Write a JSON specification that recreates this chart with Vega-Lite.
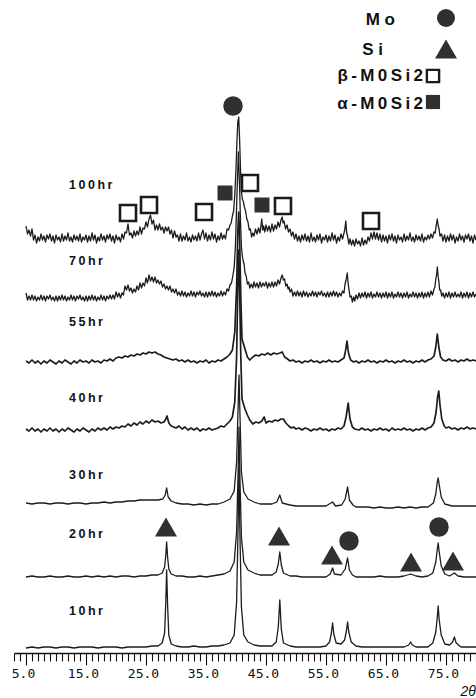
{
  "$schema": "https://vega.github.io/schema/vega-lite/v6.json",
  "width": 462,
  "height": 657,
  "autosize": "none",
  "padding": {"left": 14, "top": 0, "right": 0, "bottom": 41},
  "background": "white",
  "config": {"view": {"stroke": null}},
  "datasets": {
    "scans": [
      {"s":"10hr","x":5,"y":9},{"s":"10hr","x":6,"y":10},{"s":"10hr","x":7,"y":9},{"s":"10hr","x":8,"y":10},{"s":"10hr","x":9,"y":10},{"s":"10hr","x":10,"y":9},{"s":"10hr","x":11,"y":10},{"s":"10hr","x":12,"y":10},{"s":"10hr","x":13,"y":9},{"s":"10hr","x":14,"y":10},{"s":"10hr","x":15,"y":10},{"s":"10hr","x":16,"y":10},{"s":"10hr","x":17,"y":9},{"s":"10hr","x":18,"y":10},{"s":"10hr","x":19,"y":10},{"s":"10hr","x":20,"y":10},{"s":"10hr","x":21,"y":9},{"s":"10hr","x":22,"y":10},{"s":"10hr","x":23,"y":10},{"s":"10hr","x":24,"y":10},{"s":"10hr","x":25,"y":10},{"s":"10hr","x":26,"y":11},{"s":"10hr","x":27,"y":11},{"s":"10hr","x":27.7,"y":14},{"s":"10hr","x":28.1,"y":24},{"s":"10hr","x":28.3,"y":55},{"s":"10hr","x":28.44,"y":87},{"s":"10hr","x":28.6,"y":52},{"s":"10hr","x":28.8,"y":22},{"s":"10hr","x":29.2,"y":13},{"s":"10hr","x":30,"y":11},{"s":"10hr","x":31,"y":10},{"s":"10hr","x":32,"y":10},{"s":"10hr","x":33,"y":11},{"s":"10hr","x":34,"y":10},{"s":"10hr","x":35,"y":10},{"s":"10hr","x":36,"y":11},{"s":"10hr","x":37,"y":11},{"s":"10hr","x":38,"y":12},{"s":"10hr","x":39,"y":14},{"s":"10hr","x":39.7,"y":22},{"s":"10hr","x":40.1,"y":55},{"s":"10hr","x":40.35,"y":130},{"s":"10hr","x":40.5,"y":190},{"s":"10hr","x":40.65,"y":125},{"s":"10hr","x":40.9,"y":50},{"s":"10hr","x":41.3,"y":22},{"s":"10hr","x":42,"y":15},{"s":"10hr","x":43,"y":12},{"s":"10hr","x":44,"y":11},{"s":"10hr","x":45,"y":11},{"s":"10hr","x":46,"y":11},{"s":"10hr","x":46.7,"y":15},{"s":"10hr","x":47.05,"y":30},{"s":"10hr","x":47.3,"y":57},{"s":"10hr","x":47.55,"y":28},{"s":"10hr","x":47.9,"y":14},{"s":"10hr","x":49,"y":11},{"s":"10hr","x":50,"y":10},{"s":"10hr","x":51,"y":10},{"s":"10hr","x":52,"y":10},{"s":"10hr","x":53,"y":10},{"s":"10hr","x":54,"y":10},{"s":"10hr","x":55,"y":11},{"s":"10hr","x":55.6,"y":15},{"s":"10hr","x":55.9,"y":24},{"s":"10hr","x":56.1,"y":34},{"s":"10hr","x":56.3,"y":23},{"s":"10hr","x":56.7,"y":14},{"s":"10hr","x":57.5,"y":13},{"s":"10hr","x":58.1,"y":17},{"s":"10hr","x":58.4,"y":26},{"s":"10hr","x":58.6,"y":35},{"s":"10hr","x":58.8,"y":25},{"s":"10hr","x":59.2,"y":15},{"s":"10hr","x":60,"y":11},{"s":"10hr","x":61,"y":10},{"s":"10hr","x":62,"y":10},{"s":"10hr","x":63,"y":10},{"s":"10hr","x":64,"y":10},{"s":"10hr","x":65,"y":10},{"s":"10hr","x":66,"y":10},{"s":"10hr","x":67,"y":10},{"s":"10hr","x":68,"y":10},{"s":"10hr","x":68.8,"y":12},{"s":"10hr","x":69.1,"y":15},{"s":"10hr","x":69.4,"y":12},{"s":"10hr","x":70,"y":10},{"s":"10hr","x":71,"y":10},{"s":"10hr","x":72,"y":10},{"s":"10hr","x":72.8,"y":14},{"s":"10hr","x":73.3,"y":25},{"s":"10hr","x":73.55,"y":40},{"s":"10hr","x":73.7,"y":51},{"s":"10hr","x":73.85,"y":38},{"s":"10hr","x":74.2,"y":22},{"s":"10hr","x":74.8,"y":13},{"s":"10hr","x":75.6,"y":12},{"s":"10hr","x":76.1,"y":15},{"s":"10hr","x":76.4,"y":20},{"s":"10hr","x":76.7,"y":14},{"s":"10hr","x":77.5,"y":10},{"s":"10hr","x":78,"y":10},{"s":"10hr","x":79,"y":10},{"s":"10hr","x":80,"y":10},

      {"s":"20hr","x":5,"y":80},{"s":"20hr","x":6,"y":81},{"s":"20hr","x":7,"y":80},{"s":"20hr","x":8,"y":80},{"s":"20hr","x":9,"y":81},{"s":"20hr","x":10,"y":80},{"s":"20hr","x":11,"y":80},{"s":"20hr","x":12,"y":81},{"s":"20hr","x":13,"y":80},{"s":"20hr","x":14,"y":80},{"s":"20hr","x":15,"y":81},{"s":"20hr","x":16,"y":80},{"s":"20hr","x":17,"y":81},{"s":"20hr","x":18,"y":80},{"s":"20hr","x":19,"y":81},{"s":"20hr","x":20,"y":80},{"s":"20hr","x":21,"y":81},{"s":"20hr","x":22,"y":81},{"s":"20hr","x":23,"y":80},{"s":"20hr","x":24,"y":81},{"s":"20hr","x":25,"y":81},{"s":"20hr","x":26,"y":82},{"s":"20hr","x":27,"y":82},{"s":"20hr","x":27.7,"y":84},{"s":"20hr","x":28.1,"y":90},{"s":"20hr","x":28.3,"y":102},{"s":"20hr","x":28.44,"y":115},{"s":"20hr","x":28.6,"y":100},{"s":"20hr","x":28.8,"y":88},{"s":"20hr","x":29.2,"y":83},{"s":"20hr","x":30,"y":81},{"s":"20hr","x":31,"y":81},{"s":"20hr","x":32,"y":80},{"s":"20hr","x":33,"y":80},{"s":"20hr","x":34,"y":81},{"s":"20hr","x":35,"y":80},{"s":"20hr","x":36,"y":81},{"s":"20hr","x":37,"y":82},{"s":"20hr","x":38,"y":83},{"s":"20hr","x":39,"y":86},{"s":"20hr","x":39.7,"y":95},{"s":"20hr","x":40.1,"y":125},{"s":"20hr","x":40.35,"y":185},{"s":"20hr","x":40.5,"y":230},{"s":"20hr","x":40.65,"y":180},{"s":"20hr","x":40.9,"y":120},{"s":"20hr","x":41.3,"y":95},{"s":"20hr","x":42,"y":87},{"s":"20hr","x":43,"y":84},{"s":"20hr","x":44,"y":82},{"s":"20hr","x":45,"y":82},{"s":"20hr","x":46,"y":82},{"s":"20hr","x":46.7,"y":85},{"s":"20hr","x":47.05,"y":93},{"s":"20hr","x":47.3,"y":105},{"s":"20hr","x":47.55,"y":92},{"s":"20hr","x":47.9,"y":84},{"s":"20hr","x":49,"y":81},{"s":"20hr","x":50,"y":81},{"s":"20hr","x":51,"y":80},{"s":"20hr","x":52,"y":80},{"s":"20hr","x":53,"y":80},{"s":"20hr","x":54,"y":80},{"s":"20hr","x":55,"y":80},{"s":"20hr","x":55.7,"y":83},{"s":"20hr","x":56.1,"y":89},{"s":"20hr","x":56.4,"y":83},{"s":"20hr","x":57.5,"y":82},{"s":"20hr","x":58.2,"y":88},{"s":"20hr","x":58.6,"y":99},{"s":"20hr","x":58.9,"y":87},{"s":"20hr","x":59.4,"y":82},{"s":"20hr","x":60,"y":80},{"s":"20hr","x":61,"y":80},{"s":"20hr","x":62,"y":80},{"s":"20hr","x":63,"y":80},{"s":"20hr","x":64,"y":81},{"s":"20hr","x":65,"y":80},{"s":"20hr","x":66,"y":80},{"s":"20hr","x":67,"y":80},{"s":"20hr","x":68,"y":81},{"s":"20hr","x":69.1,"y":83},{"s":"20hr","x":70,"y":81},{"s":"20hr","x":71,"y":80},{"s":"20hr","x":72,"y":81},{"s":"20hr","x":72.8,"y":84},{"s":"20hr","x":73.3,"y":95},{"s":"20hr","x":73.55,"y":108},{"s":"20hr","x":73.7,"y":114},{"s":"20hr","x":73.85,"y":106},{"s":"20hr","x":74.2,"y":91},{"s":"20hr","x":74.8,"y":83},{"s":"20hr","x":75.6,"y":81},{"s":"20hr","x":76.4,"y":84},{"s":"20hr","x":77,"y":81},{"s":"20hr","x":78,"y":80},{"s":"20hr","x":79,"y":80},{"s":"20hr","x":80,"y":80},

      {"s":"30hr","x":5,"y":154},{"s":"30hr","x":6,"y":153},{"s":"30hr","x":7,"y":154},{"s":"30hr","x":8,"y":154},{"s":"30hr","x":9,"y":153},{"s":"30hr","x":10,"y":154},{"s":"30hr","x":11,"y":154},{"s":"30hr","x":12,"y":153},{"s":"30hr","x":13,"y":154},{"s":"30hr","x":14,"y":154},{"s":"30hr","x":15,"y":153},{"s":"30hr","x":16,"y":154},{"s":"30hr","x":17,"y":154},{"s":"30hr","x":18,"y":155},{"s":"30hr","x":19,"y":154},{"s":"30hr","x":20,"y":155},{"s":"30hr","x":21,"y":155},{"s":"30hr","x":22,"y":156},{"s":"30hr","x":23,"y":156},{"s":"30hr","x":24,"y":157},{"s":"30hr","x":25,"y":157},{"s":"30hr","x":26,"y":157},{"s":"30hr","x":27,"y":157},{"s":"30hr","x":27.8,"y":158},{"s":"30hr","x":28.2,"y":162},{"s":"30hr","x":28.44,"y":169},{"s":"30hr","x":28.7,"y":160},{"s":"30hr","x":29.2,"y":156},{"s":"30hr","x":30,"y":154},{"s":"30hr","x":31,"y":153},{"s":"30hr","x":32,"y":153},{"s":"30hr","x":33,"y":152},{"s":"30hr","x":34,"y":153},{"s":"30hr","x":35,"y":152},{"s":"30hr","x":36,"y":153},{"s":"30hr","x":37,"y":153},{"s":"30hr","x":38,"y":155},{"s":"30hr","x":39,"y":158},{"s":"30hr","x":39.7,"y":166},{"s":"30hr","x":40.1,"y":195},{"s":"30hr","x":40.35,"y":250},{"s":"30hr","x":40.5,"y":282},{"s":"30hr","x":40.65,"y":245},{"s":"30hr","x":40.9,"y":185},{"s":"30hr","x":41.3,"y":165},{"s":"30hr","x":42,"y":158},{"s":"30hr","x":43,"y":155},{"s":"30hr","x":44,"y":153},{"s":"30hr","x":45,"y":153},{"s":"30hr","x":46,"y":153},{"s":"30hr","x":46.8,"y":155},{"s":"30hr","x":47.3,"y":162},{"s":"30hr","x":47.7,"y":154},{"s":"30hr","x":49,"y":152},{"s":"30hr","x":50,"y":151},{"s":"30hr","x":51,"y":151},{"s":"30hr","x":52,"y":151},{"s":"30hr","x":53,"y":151},{"s":"30hr","x":54,"y":151},{"s":"30hr","x":55,"y":151},{"s":"30hr","x":56.1,"y":155},{"s":"30hr","x":56.6,"y":151},{"s":"30hr","x":57.6,"y":152},{"s":"30hr","x":58.2,"y":158},{"s":"30hr","x":58.6,"y":170},{"s":"30hr","x":58.9,"y":157},{"s":"30hr","x":59.5,"y":152},{"s":"30hr","x":60,"y":150},{"s":"30hr","x":61,"y":150},{"s":"30hr","x":62,"y":150},{"s":"30hr","x":63,"y":149},{"s":"30hr","x":64,"y":150},{"s":"30hr","x":65,"y":149},{"s":"30hr","x":66,"y":149},{"s":"30hr","x":67,"y":150},{"s":"30hr","x":68,"y":149},{"s":"30hr","x":69,"y":150},{"s":"30hr","x":70,"y":149},{"s":"30hr","x":71,"y":150},{"s":"30hr","x":72,"y":150},{"s":"30hr","x":72.9,"y":154},{"s":"30hr","x":73.3,"y":163},{"s":"30hr","x":73.55,"y":175},{"s":"30hr","x":73.7,"y":179},{"s":"30hr","x":73.85,"y":173},{"s":"30hr","x":74.2,"y":160},{"s":"30hr","x":74.8,"y":153},{"s":"30hr","x":76,"y":151},{"s":"30hr","x":77,"y":151},{"s":"30hr","x":78,"y":151},{"s":"30hr","x":79,"y":151},{"s":"30hr","x":80,"y":151},

      {"s":"40hr","x":5,"y":228},{"s":"40hr","x":5.5,"y":226},{"s":"40hr","x":6,"y":229},{"s":"40hr","x":6.5,"y":226},{"s":"40hr","x":7,"y":228},{"s":"40hr","x":7.5,"y":225},{"s":"40hr","x":8,"y":228},{"s":"40hr","x":8.5,"y":226},{"s":"40hr","x":9,"y":229},{"s":"40hr","x":9.5,"y":226},{"s":"40hr","x":10,"y":228},{"s":"40hr","x":10.5,"y":225},{"s":"40hr","x":11,"y":228},{"s":"40hr","x":11.5,"y":226},{"s":"40hr","x":12,"y":229},{"s":"40hr","x":12.5,"y":227},{"s":"40hr","x":13,"y":225},{"s":"40hr","x":13.5,"y":228},{"s":"40hr","x":14,"y":226},{"s":"40hr","x":14.5,"y":229},{"s":"40hr","x":15,"y":227},{"s":"40hr","x":15.5,"y":225},{"s":"40hr","x":16,"y":228},{"s":"40hr","x":16.5,"y":226},{"s":"40hr","x":17,"y":229},{"s":"40hr","x":17.5,"y":227},{"s":"40hr","x":18,"y":229},{"s":"40hr","x":18.5,"y":227},{"s":"40hr","x":19,"y":230},{"s":"40hr","x":19.5,"y":228},{"s":"40hr","x":20,"y":230},{"s":"40hr","x":20.5,"y":229},{"s":"40hr","x":21,"y":231},{"s":"40hr","x":21.5,"y":230},{"s":"40hr","x":22,"y":233},{"s":"40hr","x":22.5,"y":231},{"s":"40hr","x":23,"y":234},{"s":"40hr","x":23.5,"y":232},{"s":"40hr","x":24,"y":235},{"s":"40hr","x":24.5,"y":233},{"s":"40hr","x":25,"y":236},{"s":"40hr","x":25.5,"y":234},{"s":"40hr","x":26,"y":237},{"s":"40hr","x":26.5,"y":235},{"s":"40hr","x":27,"y":236},{"s":"40hr","x":27.5,"y":234},{"s":"40hr","x":28,"y":235},{"s":"40hr","x":28.3,"y":238},{"s":"40hr","x":28.5,"y":241},{"s":"40hr","x":28.8,"y":234},{"s":"40hr","x":29.2,"y":231},{"s":"40hr","x":29.6,"y":230},{"s":"40hr","x":30,"y":229},{"s":"40hr","x":30.5,"y":231},{"s":"40hr","x":31,"y":228},{"s":"40hr","x":31.5,"y":230},{"s":"40hr","x":32,"y":227},{"s":"40hr","x":32.5,"y":229},{"s":"40hr","x":33,"y":227},{"s":"40hr","x":33.5,"y":229},{"s":"40hr","x":34,"y":226},{"s":"40hr","x":34.5,"y":228},{"s":"40hr","x":35,"y":227},{"s":"40hr","x":35.5,"y":229},{"s":"40hr","x":36,"y":227},{"s":"40hr","x":36.5,"y":228},{"s":"40hr","x":37,"y":229},{"s":"40hr","x":37.5,"y":231},{"s":"40hr","x":38,"y":230},{"s":"40hr","x":38.5,"y":233},{"s":"40hr","x":39,"y":236},{"s":"40hr","x":39.4,"y":240},{"s":"40hr","x":39.8,"y":255},{"s":"40hr","x":40.1,"y":300},{"s":"40hr","x":40.3,"y":370},{"s":"40hr","x":40.45,"y":407},{"s":"40hr","x":40.6,"y":370},{"s":"40hr","x":40.8,"y":300},{"s":"40hr","x":41,"y":258},{"s":"40hr","x":41.2,"y":254},{"s":"40hr","x":41.5,"y":248},{"s":"40hr","x":41.9,"y":242},{"s":"40hr","x":42.3,"y":237},{"s":"40hr","x":42.8,"y":233},{"s":"40hr","x":43.3,"y":235},{"s":"40hr","x":43.8,"y":234},{"s":"40hr","x":44.3,"y":236},{"s":"40hr","x":44.7,"y":240},{"s":"40hr","x":45,"y":234},{"s":"40hr","x":45.5,"y":236},{"s":"40hr","x":46,"y":235},{"s":"40hr","x":46.5,"y":237},{"s":"40hr","x":47,"y":236},{"s":"40hr","x":47.5,"y":238},{"s":"40hr","x":47.9,"y":238},{"s":"40hr","x":48.3,"y":234},{"s":"40hr","x":48.8,"y":231},{"s":"40hr","x":49.2,"y":229},{"s":"40hr","x":49.6,"y":230},{"s":"40hr","x":50,"y":228},{"s":"40hr","x":50.5,"y":229},{"s":"40hr","x":51,"y":227},{"s":"40hr","x":51.5,"y":229},{"s":"40hr","x":52,"y":228},{"s":"40hr","x":52.5,"y":226},{"s":"40hr","x":53,"y":228},{"s":"40hr","x":53.5,"y":227},{"s":"40hr","x":54,"y":229},{"s":"40hr","x":54.5,"y":227},{"s":"40hr","x":55,"y":228},{"s":"40hr","x":55.5,"y":226},{"s":"40hr","x":56,"y":228},{"s":"40hr","x":56.5,"y":227},{"s":"40hr","x":57,"y":229},{"s":"40hr","x":57.5,"y":228},{"s":"40hr","x":58,"y":231},{"s":"40hr","x":58.35,"y":240},{"s":"40hr","x":58.7,"y":254},{"s":"40hr","x":59,"y":238},{"s":"40hr","x":59.4,"y":230},{"s":"40hr","x":59.8,"y":228},{"s":"40hr","x":60.5,"y":227},{"s":"40hr","x":61,"y":229},{"s":"40hr","x":61.5,"y":227},{"s":"40hr","x":62,"y":228},{"s":"40hr","x":62.5,"y":226},{"s":"40hr","x":63,"y":228},{"s":"40hr","x":63.5,"y":227},{"s":"40hr","x":64,"y":229},{"s":"40hr","x":64.5,"y":227},{"s":"40hr","x":65,"y":228},{"s":"40hr","x":65.5,"y":226},{"s":"40hr","x":66,"y":229},{"s":"40hr","x":66.5,"y":227},{"s":"40hr","x":67,"y":228},{"s":"40hr","x":67.5,"y":227},{"s":"40hr","x":68,"y":229},{"s":"40hr","x":68.5,"y":227},{"s":"40hr","x":69,"y":228},{"s":"40hr","x":69.5,"y":226},{"s":"40hr","x":70,"y":228},{"s":"40hr","x":70.5,"y":227},{"s":"40hr","x":71,"y":229},{"s":"40hr","x":71.5,"y":227},{"s":"40hr","x":72,"y":229},{"s":"40hr","x":72.5,"y":230},{"s":"40hr","x":73,"y":234},{"s":"40hr","x":73.35,"y":245},{"s":"40hr","x":73.6,"y":260},{"s":"40hr","x":73.8,"y":266},{"s":"40hr","x":74,"y":252},{"s":"40hr","x":74.3,"y":238},{"s":"40hr","x":74.7,"y":231},{"s":"40hr","x":75,"y":229},{"s":"40hr","x":75.5,"y":230},{"s":"40hr","x":76,"y":228},{"s":"40hr","x":76.5,"y":229},{"s":"40hr","x":77,"y":227},{"s":"40hr","x":77.5,"y":229},{"s":"40hr","x":78,"y":228},{"s":"40hr","x":78.5,"y":230},{"s":"40hr","x":79,"y":228},{"s":"40hr","x":79.5,"y":229},{"s":"40hr","x":80,"y":228},

      {"s":"55hr","x":5,"y":296},{"s":"55hr","x":5.5,"y":294},{"s":"55hr","x":6,"y":297},{"s":"55hr","x":6.5,"y":294},{"s":"55hr","x":7,"y":296},{"s":"55hr","x":7.5,"y":293},{"s":"55hr","x":8,"y":296},{"s":"55hr","x":8.5,"y":294},{"s":"55hr","x":9,"y":297},{"s":"55hr","x":9.5,"y":295},{"s":"55hr","x":10,"y":293},{"s":"55hr","x":10.5,"y":296},{"s":"55hr","x":11,"y":294},{"s":"55hr","x":11.5,"y":297},{"s":"55hr","x":12,"y":295},{"s":"55hr","x":12.5,"y":293},{"s":"55hr","x":13,"y":296},{"s":"55hr","x":13.5,"y":294},{"s":"55hr","x":14,"y":297},{"s":"55hr","x":14.5,"y":295},{"s":"55hr","x":15,"y":296},{"s":"55hr","x":15.5,"y":294},{"s":"55hr","x":16,"y":297},{"s":"55hr","x":16.5,"y":295},{"s":"55hr","x":17,"y":296},{"s":"55hr","x":17.5,"y":294},{"s":"55hr","x":18,"y":297},{"s":"55hr","x":18.5,"y":296},{"s":"55hr","x":19,"y":298},{"s":"55hr","x":19.5,"y":296},{"s":"55hr","x":20,"y":299},{"s":"55hr","x":20.5,"y":300},{"s":"55hr","x":21,"y":299},{"s":"55hr","x":21.5,"y":301},{"s":"55hr","x":22,"y":300},{"s":"55hr","x":22.5,"y":302},{"s":"55hr","x":23,"y":301},{"s":"55hr","x":23.5,"y":303},{"s":"55hr","x":24,"y":302},{"s":"55hr","x":24.5,"y":304},{"s":"55hr","x":25,"y":303},{"s":"55hr","x":25.5,"y":305},{"s":"55hr","x":26,"y":304},{"s":"55hr","x":26.5,"y":305},{"s":"55hr","x":27,"y":303},{"s":"55hr","x":27.5,"y":302},{"s":"55hr","x":28,"y":300},{"s":"55hr","x":28.5,"y":299},{"s":"55hr","x":29,"y":298},{"s":"55hr","x":29.5,"y":297},{"s":"55hr","x":30,"y":298},{"s":"55hr","x":30.5,"y":296},{"s":"55hr","x":31,"y":297},{"s":"55hr","x":31.5,"y":295},{"s":"55hr","x":32,"y":297},{"s":"55hr","x":32.5,"y":295},{"s":"55hr","x":33,"y":296},{"s":"55hr","x":33.5,"y":294},{"s":"55hr","x":34,"y":296},{"s":"55hr","x":34.5,"y":295},{"s":"55hr","x":35,"y":297},{"s":"55hr","x":35.5,"y":294},{"s":"55hr","x":36,"y":296},{"s":"55hr","x":36.5,"y":295},{"s":"55hr","x":37,"y":297},{"s":"55hr","x":37.5,"y":296},{"s":"55hr","x":38,"y":298},{"s":"55hr","x":38.5,"y":300},{"s":"55hr","x":39,"y":303},{"s":"55hr","x":39.4,"y":307},{"s":"55hr","x":39.8,"y":325},{"s":"55hr","x":40.1,"y":370},{"s":"55hr","x":40.3,"y":425},{"s":"55hr","x":40.45,"y":445},{"s":"55hr","x":40.6,"y":420},{"s":"55hr","x":40.8,"y":360},{"s":"55hr","x":41,"y":318},{"s":"55hr","x":41.2,"y":314},{"s":"55hr","x":41.5,"y":308},{"s":"55hr","x":41.9,"y":300},{"s":"55hr","x":42.3,"y":297},{"s":"55hr","x":42.8,"y":300},{"s":"55hr","x":43.3,"y":302},{"s":"55hr","x":43.8,"y":301},{"s":"55hr","x":44.3,"y":303},{"s":"55hr","x":44.8,"y":302},{"s":"55hr","x":45.3,"y":304},{"s":"55hr","x":45.8,"y":302},{"s":"55hr","x":46.3,"y":304},{"s":"55hr","x":46.8,"y":303},{"s":"55hr","x":47.3,"y":304},{"s":"55hr","x":47.7,"y":305},{"s":"55hr","x":48.1,"y":300},{"s":"55hr","x":48.6,"y":298},{"s":"55hr","x":49,"y":296},{"s":"55hr","x":49.5,"y":297},{"s":"55hr","x":50,"y":295},{"s":"55hr","x":50.5,"y":296},{"s":"55hr","x":51,"y":294},{"s":"55hr","x":51.5,"y":296},{"s":"55hr","x":52,"y":295},{"s":"55hr","x":52.5,"y":297},{"s":"55hr","x":53,"y":295},{"s":"55hr","x":53.5,"y":296},{"s":"55hr","x":54,"y":294},{"s":"55hr","x":54.5,"y":296},{"s":"55hr","x":55,"y":295},{"s":"55hr","x":55.5,"y":297},{"s":"55hr","x":56,"y":295},{"s":"55hr","x":56.5,"y":296},{"s":"55hr","x":57,"y":295},{"s":"55hr","x":57.5,"y":297},{"s":"55hr","x":58,"y":299},{"s":"55hr","x":58.25,"y":306},{"s":"55hr","x":58.5,"y":316},{"s":"55hr","x":58.75,"y":304},{"s":"55hr","x":59.1,"y":297},{"s":"55hr","x":59.6,"y":295},{"s":"55hr","x":60,"y":296},{"s":"55hr","x":60.5,"y":294},{"s":"55hr","x":61,"y":296},{"s":"55hr","x":61.5,"y":295},{"s":"55hr","x":62,"y":297},{"s":"55hr","x":62.5,"y":295},{"s":"55hr","x":63,"y":296},{"s":"55hr","x":63.5,"y":294},{"s":"55hr","x":64,"y":296},{"s":"55hr","x":64.5,"y":295},{"s":"55hr","x":65,"y":297},{"s":"55hr","x":65.5,"y":295},{"s":"55hr","x":66,"y":296},{"s":"55hr","x":66.5,"y":294},{"s":"55hr","x":67,"y":296},{"s":"55hr","x":67.5,"y":295},{"s":"55hr","x":68,"y":297},{"s":"55hr","x":68.5,"y":295},{"s":"55hr","x":69,"y":296},{"s":"55hr","x":69.5,"y":294},{"s":"55hr","x":70,"y":296},{"s":"55hr","x":70.5,"y":295},{"s":"55hr","x":71,"y":297},{"s":"55hr","x":71.5,"y":295},{"s":"55hr","x":72,"y":297},{"s":"55hr","x":72.5,"y":298},{"s":"55hr","x":73,"y":301},{"s":"55hr","x":73.3,"y":310},{"s":"55hr","x":73.55,"y":323},{"s":"55hr","x":73.8,"y":310},{"s":"55hr","x":74.1,"y":300},{"s":"55hr","x":74.5,"y":297},{"s":"55hr","x":75,"y":296},{"s":"55hr","x":75.5,"y":298},{"s":"55hr","x":76,"y":296},{"s":"55hr","x":76.5,"y":297},{"s":"55hr","x":77,"y":295},{"s":"55hr","x":77.5,"y":297},{"s":"55hr","x":78,"y":296},{"s":"55hr","x":78.5,"y":298},{"s":"55hr","x":79,"y":296},{"s":"55hr","x":79.5,"y":297},{"s":"55hr","x":80,"y":296},

      {"s":"70hr","x":5,"y":364},{"s":"70hr","x":5.25,"y":357},{"s":"70hr","x":5.5,"y":361},{"s":"70hr","x":5.75,"y":357},{"s":"70hr","x":6,"y":362},{"s":"70hr","x":6.25,"y":357},{"s":"70hr","x":6.5,"y":361},{"s":"70hr","x":6.75,"y":356},{"s":"70hr","x":7,"y":360},{"s":"70hr","x":7.25,"y":357},{"s":"70hr","x":7.5,"y":362},{"s":"70hr","x":7.75,"y":357},{"s":"70hr","x":8,"y":361},{"s":"70hr","x":8.25,"y":356},{"s":"70hr","x":8.5,"y":361},{"s":"70hr","x":8.75,"y":358},{"s":"70hr","x":9,"y":362},{"s":"70hr","x":9.25,"y":357},{"s":"70hr","x":9.5,"y":360},{"s":"70hr","x":9.75,"y":356},{"s":"70hr","x":10,"y":361},{"s":"70hr","x":10.25,"y":356},{"s":"70hr","x":10.5,"y":361},{"s":"70hr","x":10.75,"y":357},{"s":"70hr","x":11,"y":362},{"s":"70hr","x":11.25,"y":357},{"s":"70hr","x":11.5,"y":361},{"s":"70hr","x":11.75,"y":356},{"s":"70hr","x":12,"y":360},{"s":"70hr","x":12.25,"y":357},{"s":"70hr","x":12.5,"y":362},{"s":"70hr","x":12.75,"y":357},{"s":"70hr","x":13,"y":361},{"s":"70hr","x":13.25,"y":356},{"s":"70hr","x":13.5,"y":361},{"s":"70hr","x":13.75,"y":358},{"s":"70hr","x":14,"y":362},{"s":"70hr","x":14.25,"y":357},{"s":"70hr","x":14.5,"y":360},{"s":"70hr","x":14.75,"y":356},{"s":"70hr","x":15,"y":361},{"s":"70hr","x":15.25,"y":356},{"s":"70hr","x":15.5,"y":361},{"s":"70hr","x":15.75,"y":357},{"s":"70hr","x":16,"y":362},{"s":"70hr","x":16.25,"y":357},{"s":"70hr","x":16.5,"y":361},{"s":"70hr","x":16.75,"y":356},{"s":"70hr","x":17,"y":360},{"s":"70hr","x":17.25,"y":357},{"s":"70hr","x":17.5,"y":362},{"s":"70hr","x":17.75,"y":357},{"s":"70hr","x":18,"y":361},{"s":"70hr","x":18.25,"y":356},{"s":"70hr","x":18.5,"y":361},{"s":"70hr","x":18.75,"y":358},{"s":"70hr","x":19,"y":362},{"s":"70hr","x":19.25,"y":358},{"s":"70hr","x":19.5,"y":362},{"s":"70hr","x":19.75,"y":358},{"s":"70hr","x":20,"y":365},{"s":"70hr","x":20.25,"y":360},{"s":"70hr","x":20.5,"y":364},{"s":"70hr","x":20.75,"y":359},{"s":"70hr","x":21,"y":364},{"s":"70hr","x":21.25,"y":362},{"s":"70hr","x":21.5,"y":371},{"s":"70hr","x":21.75,"y":367},{"s":"70hr","x":22,"y":372},{"s":"70hr","x":22.25,"y":366},{"s":"70hr","x":22.5,"y":369},{"s":"70hr","x":22.75,"y":364},{"s":"70hr","x":23,"y":368},{"s":"70hr","x":23.25,"y":365},{"s":"70hr","x":23.5,"y":371},{"s":"70hr","x":23.75,"y":367},{"s":"70hr","x":24,"y":374},{"s":"70hr","x":24.25,"y":369},{"s":"70hr","x":24.5,"y":374},{"s":"70hr","x":24.75,"y":371},{"s":"70hr","x":25,"y":379},{"s":"70hr","x":25.25,"y":374},{"s":"70hr","x":25.5,"y":382},{"s":"70hr","x":25.75,"y":376},{"s":"70hr","x":26,"y":380},{"s":"70hr","x":26.25,"y":375},{"s":"70hr","x":26.5,"y":380},{"s":"70hr","x":26.75,"y":374},{"s":"70hr","x":27,"y":377},{"s":"70hr","x":27.25,"y":373},{"s":"70hr","x":27.5,"y":376},{"s":"70hr","x":27.75,"y":370},{"s":"70hr","x":28,"y":373},{"s":"70hr","x":28.25,"y":368},{"s":"70hr","x":28.5,"y":371},{"s":"70hr","x":28.75,"y":367},{"s":"70hr","x":29,"y":371},{"s":"70hr","x":29.25,"y":365},{"s":"70hr","x":29.5,"y":368},{"s":"70hr","x":29.75,"y":364},{"s":"70hr","x":30,"y":368},{"s":"70hr","x":30.25,"y":362},{"s":"70hr","x":30.5,"y":365},{"s":"70hr","x":30.75,"y":361},{"s":"70hr","x":31,"y":366},{"s":"70hr","x":31.25,"y":361},{"s":"70hr","x":31.5,"y":365},{"s":"70hr","x":31.75,"y":360},{"s":"70hr","x":32,"y":364},{"s":"70hr","x":32.25,"y":361},{"s":"70hr","x":32.5,"y":366},{"s":"70hr","x":32.75,"y":361},{"s":"70hr","x":33,"y":365},{"s":"70hr","x":33.25,"y":360},{"s":"70hr","x":33.5,"y":365},{"s":"70hr","x":33.75,"y":362},{"s":"70hr","x":34,"y":366},{"s":"70hr","x":34.25,"y":361},{"s":"70hr","x":34.5,"y":364},{"s":"70hr","x":34.75,"y":360},{"s":"70hr","x":35,"y":365},{"s":"70hr","x":35.25,"y":360},{"s":"70hr","x":35.5,"y":365},{"s":"70hr","x":35.75,"y":361},{"s":"70hr","x":36,"y":366},{"s":"70hr","x":36.25,"y":361},{"s":"70hr","x":36.5,"y":365},{"s":"70hr","x":36.75,"y":360},{"s":"70hr","x":37,"y":364},{"s":"70hr","x":37.25,"y":361},{"s":"70hr","x":37.5,"y":366},{"s":"70hr","x":37.75,"y":361},{"s":"70hr","x":38,"y":365},{"s":"70hr","x":38.25,"y":362},{"s":"70hr","x":38.5,"y":368},{"s":"70hr","x":38.75,"y":366},{"s":"70hr","x":39,"y":372},{"s":"70hr","x":39.25,"y":374},{"s":"70hr","x":39.5,"y":382},{"s":"70hr","x":39.7,"y":390},{"s":"70hr","x":39.9,"y":410},{"s":"70hr","x":40.05,"y":440},{"s":"70hr","x":40.2,"y":470},{"s":"70hr","x":40.4,"y":505},{"s":"70hr","x":40.6,"y":470},{"s":"70hr","x":40.75,"y":435},{"s":"70hr","x":40.9,"y":410},{"s":"70hr","x":41.05,"y":401},{"s":"70hr","x":41.2,"y":396},{"s":"70hr","x":41.35,"y":393},{"s":"70hr","x":41.5,"y":384},{"s":"70hr","x":41.7,"y":381},{"s":"70hr","x":41.9,"y":373},{"s":"70hr","x":42.1,"y":375},{"s":"70hr","x":42.3,"y":369},{"s":"70hr","x":42.55,"y":373},{"s":"70hr","x":42.8,"y":369},{"s":"70hr","x":43,"y":375},{"s":"70hr","x":43.25,"y":370},{"s":"70hr","x":43.5,"y":374},{"s":"70hr","x":43.75,"y":369},{"s":"70hr","x":44,"y":375},{"s":"70hr","x":44.25,"y":370},{"s":"70hr","x":44.5,"y":374},{"s":"70hr","x":44.75,"y":371},{"s":"70hr","x":45,"y":375},{"s":"70hr","x":45.25,"y":369},{"s":"70hr","x":45.5,"y":374},{"s":"70hr","x":45.75,"y":370},{"s":"70hr","x":46,"y":375},{"s":"70hr","x":46.25,"y":370},{"s":"70hr","x":46.5,"y":375},{"s":"70hr","x":46.75,"y":371},{"s":"70hr","x":47,"y":377},{"s":"70hr","x":47.25,"y":373},{"s":"70hr","x":47.5,"y":379},{"s":"70hr","x":47.7,"y":382},{"s":"70hr","x":47.9,"y":377},{"s":"70hr","x":48.1,"y":378},{"s":"70hr","x":48.3,"y":371},{"s":"70hr","x":48.5,"y":373},{"s":"70hr","x":48.7,"y":368},{"s":"70hr","x":48.85,"y":370},{"s":"70hr","x":49,"y":365},{"s":"70hr","x":49.25,"y":368},{"s":"70hr","x":49.5,"y":361},{"s":"70hr","x":49.75,"y":365},{"s":"70hr","x":50,"y":361},{"s":"70hr","x":50.25,"y":366},{"s":"70hr","x":50.5,"y":361},{"s":"70hr","x":50.75,"y":365},{"s":"70hr","x":51,"y":360},{"s":"70hr","x":51.25,"y":366},{"s":"70hr","x":51.5,"y":361},{"s":"70hr","x":51.75,"y":365},{"s":"70hr","x":52,"y":360},{"s":"70hr","x":52.25,"y":364},{"s":"70hr","x":52.5,"y":361},{"s":"70hr","x":52.75,"y":366},{"s":"70hr","x":53,"y":361},{"s":"70hr","x":53.25,"y":365},{"s":"70hr","x":53.5,"y":360},{"s":"70hr","x":53.75,"y":365},{"s":"70hr","x":54,"y":362},{"s":"70hr","x":54.25,"y":366},{"s":"70hr","x":54.5,"y":361},{"s":"70hr","x":54.75,"y":364},{"s":"70hr","x":55,"y":360},{"s":"70hr","x":55.25,"y":365},{"s":"70hr","x":55.5,"y":360},{"s":"70hr","x":55.75,"y":365},{"s":"70hr","x":56,"y":361},{"s":"70hr","x":56.25,"y":366},{"s":"70hr","x":56.5,"y":361},{"s":"70hr","x":56.75,"y":365},{"s":"70hr","x":57,"y":360},{"s":"70hr","x":57.25,"y":364},{"s":"70hr","x":57.5,"y":361},{"s":"70hr","x":57.75,"y":366},{"s":"70hr","x":58,"y":364},{"s":"70hr","x":58.15,"y":372},{"s":"70hr","x":58.3,"y":376},{"s":"70hr","x":58.55,"y":384},{"s":"70hr","x":58.7,"y":373},{"s":"70hr","x":58.8,"y":369},{"s":"70hr","x":59,"y":360},{"s":"70hr","x":59.2,"y":361},{"s":"70hr","x":59.4,"y":355},{"s":"70hr","x":59.6,"y":360},{"s":"70hr","x":59.8,"y":356},{"s":"70hr","x":60,"y":362},{"s":"70hr","x":60.25,"y":358},{"s":"70hr","x":60.5,"y":364},{"s":"70hr","x":60.75,"y":359},{"s":"70hr","x":61,"y":364},{"s":"70hr","x":61.25,"y":360},{"s":"70hr","x":61.5,"y":365},{"s":"70hr","x":61.75,"y":359},{"s":"70hr","x":62,"y":364},{"s":"70hr","x":62.25,"y":360},{"s":"70hr","x":62.5,"y":365},{"s":"70hr","x":62.75,"y":359},{"s":"70hr","x":63,"y":363},{"s":"70hr","x":63.25,"y":360},{"s":"70hr","x":63.5,"y":365},{"s":"70hr","x":63.75,"y":360},{"s":"70hr","x":64,"y":364},{"s":"70hr","x":64.25,"y":359},{"s":"70hr","x":64.5,"y":364},{"s":"70hr","x":64.75,"y":360},{"s":"70hr","x":65,"y":365},{"s":"70hr","x":65.25,"y":359},{"s":"70hr","x":65.5,"y":364},{"s":"70hr","x":65.75,"y":360},{"s":"70hr","x":66,"y":365},{"s":"70hr","x":66.25,"y":359},{"s":"70hr","x":66.5,"y":363},{"s":"70hr","x":66.75,"y":360},{"s":"70hr","x":67,"y":365},{"s":"70hr","x":67.25,"y":360},{"s":"70hr","x":67.5,"y":364},{"s":"70hr","x":67.75,"y":359},{"s":"70hr","x":68,"y":364},{"s":"70hr","x":68.25,"y":360},{"s":"70hr","x":68.5,"y":365},{"s":"70hr","x":68.75,"y":359},{"s":"70hr","x":69,"y":363},{"s":"70hr","x":69.25,"y":360},{"s":"70hr","x":69.5,"y":365},{"s":"70hr","x":69.75,"y":360},{"s":"70hr","x":70,"y":364},{"s":"70hr","x":70.25,"y":359},{"s":"70hr","x":70.5,"y":364},{"s":"70hr","x":70.75,"y":360},{"s":"70hr","x":71,"y":365},{"s":"70hr","x":71.25,"y":359},{"s":"70hr","x":71.5,"y":364},{"s":"70hr","x":71.75,"y":360},{"s":"70hr","x":72,"y":365},{"s":"70hr","x":72.25,"y":360},{"s":"70hr","x":72.5,"y":366},{"s":"70hr","x":72.75,"y":362},{"s":"70hr","x":73,"y":368},{"s":"70hr","x":73.15,"y":370},{"s":"70hr","x":73.3,"y":378},{"s":"70hr","x":73.45,"y":383},{"s":"70hr","x":73.55,"y":390},{"s":"70hr","x":73.7,"y":380},{"s":"70hr","x":73.8,"y":376},{"s":"70hr","x":73.95,"y":367},{"s":"70hr","x":74.1,"y":367},{"s":"70hr","x":74.3,"y":361},{"s":"70hr","x":74.5,"y":364},{"s":"70hr","x":74.75,"y":359},{"s":"70hr","x":75,"y":364},{"s":"70hr","x":75.25,"y":360},{"s":"70hr","x":75.5,"y":365},{"s":"70hr","x":75.75,"y":359},{"s":"70hr","x":76,"y":364},{"s":"70hr","x":76.25,"y":360},{"s":"70hr","x":76.5,"y":365},{"s":"70hr","x":76.75,"y":360},{"s":"70hr","x":77,"y":363},{"s":"70hr","x":77.25,"y":360},{"s":"70hr","x":77.5,"y":365},{"s":"70hr","x":77.75,"y":359},{"s":"70hr","x":78,"y":364},{"s":"70hr","x":78.25,"y":360},{"s":"70hr","x":78.5,"y":365},{"s":"70hr","x":78.75,"y":359},{"s":"70hr","x":79,"y":364},{"s":"70hr","x":79.25,"y":360},{"s":"70hr","x":79.5,"y":365},{"s":"70hr","x":79.75,"y":360},{"s":"70hr","x":80,"y":363},

      {"s":"100hr","x":5,"y":431},{"s":"100hr","x":5.25,"y":423},{"s":"100hr","x":5.5,"y":427},{"s":"100hr","x":5.75,"y":421},{"s":"100hr","x":6,"y":428},{"s":"100hr","x":6.25,"y":417},{"s":"100hr","x":6.5,"y":422},{"s":"100hr","x":6.75,"y":414},{"s":"100hr","x":7,"y":420},{"s":"100hr","x":7.25,"y":416},{"s":"100hr","x":7.5,"y":423},{"s":"100hr","x":7.75,"y":417},{"s":"100hr","x":8,"y":421},{"s":"100hr","x":8.25,"y":415},{"s":"100hr","x":8.5,"y":422},{"s":"100hr","x":8.75,"y":418},{"s":"100hr","x":9,"y":423},{"s":"100hr","x":9.25,"y":416},{"s":"100hr","x":9.5,"y":421},{"s":"100hr","x":9.75,"y":414},{"s":"100hr","x":10,"y":422},{"s":"100hr","x":10.25,"y":417},{"s":"100hr","x":10.5,"y":420},{"s":"100hr","x":10.75,"y":415},{"s":"100hr","x":11,"y":423},{"s":"100hr","x":11.25,"y":416},{"s":"100hr","x":11.5,"y":421},{"s":"100hr","x":11.75,"y":417},{"s":"100hr","x":12,"y":424},{"s":"100hr","x":12.25,"y":416},{"s":"100hr","x":12.5,"y":420},{"s":"100hr","x":12.75,"y":415},{"s":"100hr","x":13,"y":422},{"s":"100hr","x":13.25,"y":417},{"s":"100hr","x":13.5,"y":421},{"s":"100hr","x":13.75,"y":416},{"s":"100hr","x":14,"y":423},{"s":"100hr","x":14.25,"y":415},{"s":"100hr","x":14.5,"y":420},{"s":"100hr","x":14.75,"y":417},{"s":"100hr","x":15,"y":422},{"s":"100hr","x":15.25,"y":415},{"s":"100hr","x":15.5,"y":421},{"s":"100hr","x":15.75,"y":416},{"s":"100hr","x":16,"y":424},{"s":"100hr","x":16.25,"y":417},{"s":"100hr","x":16.5,"y":422},{"s":"100hr","x":16.75,"y":414},{"s":"100hr","x":17,"y":420},{"s":"100hr","x":17.25,"y":416},{"s":"100hr","x":17.5,"y":423},{"s":"100hr","x":17.75,"y":417},{"s":"100hr","x":18,"y":421},{"s":"100hr","x":18.25,"y":415},{"s":"100hr","x":18.5,"y":422},{"s":"100hr","x":18.75,"y":418},{"s":"100hr","x":19,"y":423},{"s":"100hr","x":19.25,"y":416},{"s":"100hr","x":19.5,"y":421},{"s":"100hr","x":19.75,"y":414},{"s":"100hr","x":20,"y":422},{"s":"100hr","x":20.25,"y":417},{"s":"100hr","x":20.5,"y":420},{"s":"100hr","x":20.75,"y":415},{"s":"100hr","x":21,"y":423},{"s":"100hr","x":21.25,"y":418},{"s":"100hr","x":21.5,"y":425},{"s":"100hr","x":21.75,"y":424},{"s":"100hr","x":22,"y":433},{"s":"100hr","x":22.25,"y":422},{"s":"100hr","x":22.5,"y":424},{"s":"100hr","x":22.75,"y":419},{"s":"100hr","x":23,"y":426},{"s":"100hr","x":23.25,"y":421},{"s":"100hr","x":23.5,"y":426},{"s":"100hr","x":23.75,"y":422},{"s":"100hr","x":24,"y":430},{"s":"100hr","x":24.25,"y":423},{"s":"100hr","x":24.5,"y":429},{"s":"100hr","x":24.75,"y":428},{"s":"100hr","x":25,"y":435},{"s":"100hr","x":25.25,"y":430},{"s":"100hr","x":25.5,"y":438},{"s":"100hr","x":25.75,"y":442},{"s":"100hr","x":26,"y":433},{"s":"100hr","x":26.25,"y":437},{"s":"100hr","x":26.5,"y":427},{"s":"100hr","x":26.75,"y":432},{"s":"100hr","x":27,"y":427},{"s":"100hr","x":27.25,"y":433},{"s":"100hr","x":27.5,"y":427},{"s":"100hr","x":27.75,"y":430},{"s":"100hr","x":28,"y":424},{"s":"100hr","x":28.25,"y":430},{"s":"100hr","x":28.5,"y":426},{"s":"100hr","x":28.75,"y":430},{"s":"100hr","x":29,"y":423},{"s":"100hr","x":29.25,"y":427},{"s":"100hr","x":29.5,"y":419},{"s":"100hr","x":29.75,"y":426},{"s":"100hr","x":30,"y":420},{"s":"100hr","x":30.25,"y":422},{"s":"100hr","x":30.5,"y":416},{"s":"100hr","x":30.75,"y":423},{"s":"100hr","x":31,"y":416},{"s":"100hr","x":31.25,"y":421},{"s":"100hr","x":31.5,"y":417},{"s":"100hr","x":31.75,"y":424},{"s":"100hr","x":32,"y":416},{"s":"100hr","x":32.25,"y":420},{"s":"100hr","x":32.5,"y":415},{"s":"100hr","x":32.75,"y":422},{"s":"100hr","x":33,"y":417},{"s":"100hr","x":33.25,"y":421},{"s":"100hr","x":33.5,"y":416},{"s":"100hr","x":33.75,"y":424},{"s":"100hr","x":34,"y":417},{"s":"100hr","x":34.25,"y":423},{"s":"100hr","x":34.5,"y":427},{"s":"100hr","x":34.75,"y":418},{"s":"100hr","x":35,"y":424},{"s":"100hr","x":35.25,"y":416},{"s":"100hr","x":35.5,"y":422},{"s":"100hr","x":35.75,"y":417},{"s":"100hr","x":36,"y":425},{"s":"100hr","x":36.25,"y":418},{"s":"100hr","x":36.5,"y":423},{"s":"100hr","x":36.75,"y":415},{"s":"100hr","x":37,"y":421},{"s":"100hr","x":37.25,"y":417},{"s":"100hr","x":37.5,"y":424},{"s":"100hr","x":37.75,"y":418},{"s":"100hr","x":38,"y":422},{"s":"100hr","x":38.25,"y":418},{"s":"100hr","x":38.5,"y":428},{"s":"100hr","x":38.75,"y":427},{"s":"100hr","x":39,"y":432},{"s":"100hr","x":39.2,"y":434},{"s":"100hr","x":39.4,"y":441},{"s":"100hr","x":39.6,"y":446},{"s":"100hr","x":39.8,"y":462},{"s":"100hr","x":40,"y":488},{"s":"100hr","x":40.15,"y":515},{"s":"100hr","x":40.3,"y":535},{"s":"100hr","x":40.45,"y":540},{"s":"100hr","x":40.6,"y":518},{"s":"100hr","x":40.75,"y":488},{"s":"100hr","x":40.9,"y":466},{"s":"100hr","x":41.05,"y":458},{"s":"100hr","x":41.2,"y":456},{"s":"100hr","x":41.4,"y":450},{"s":"100hr","x":41.6,"y":446},{"s":"100hr","x":41.8,"y":438},{"s":"100hr","x":42,"y":435},{"s":"100hr","x":42.2,"y":427},{"s":"100hr","x":42.4,"y":428},{"s":"100hr","x":42.6,"y":420},{"s":"100hr","x":42.8,"y":424},{"s":"100hr","x":43,"y":421},{"s":"100hr","x":43.25,"y":428},{"s":"100hr","x":43.5,"y":423},{"s":"100hr","x":43.75,"y":429},{"s":"100hr","x":44,"y":424},{"s":"100hr","x":44.15,"y":431},{"s":"100hr","x":44.3,"y":438},{"s":"100hr","x":44.45,"y":427},{"s":"100hr","x":44.6,"y":431},{"s":"100hr","x":44.8,"y":425},{"s":"100hr","x":45,"y":432},{"s":"100hr","x":45.25,"y":426},{"s":"100hr","x":45.5,"y":431},{"s":"100hr","x":45.75,"y":425},{"s":"100hr","x":46,"y":433},{"s":"100hr","x":46.25,"y":426},{"s":"100hr","x":46.5,"y":432},{"s":"100hr","x":46.75,"y":428},{"s":"100hr","x":47,"y":435},{"s":"100hr","x":47.25,"y":430},{"s":"100hr","x":47.5,"y":437},{"s":"100hr","x":47.7,"y":440},{"s":"100hr","x":47.85,"y":434},{"s":"100hr","x":48,"y":436},{"s":"100hr","x":48.25,"y":428},{"s":"100hr","x":48.5,"y":432},{"s":"100hr","x":48.75,"y":425},{"s":"100hr","x":49,"y":428},{"s":"100hr","x":49.25,"y":421},{"s":"100hr","x":49.5,"y":425},{"s":"100hr","x":49.75,"y":418},{"s":"100hr","x":50,"y":423},{"s":"100hr","x":50.25,"y":416},{"s":"100hr","x":50.5,"y":421},{"s":"100hr","x":50.75,"y":415},{"s":"100hr","x":51,"y":422},{"s":"100hr","x":51.25,"y":417},{"s":"100hr","x":51.5,"y":423},{"s":"100hr","x":51.75,"y":416},{"s":"100hr","x":52,"y":421},{"s":"100hr","x":52.25,"y":415},{"s":"100hr","x":52.5,"y":424},{"s":"100hr","x":52.75,"y":416},{"s":"100hr","x":53,"y":420},{"s":"100hr","x":53.25,"y":415},{"s":"100hr","x":53.5,"y":422},{"s":"100hr","x":53.75,"y":417},{"s":"100hr","x":54,"y":423},{"s":"100hr","x":54.25,"y":414},{"s":"100hr","x":54.5,"y":420},{"s":"100hr","x":54.75,"y":417},{"s":"100hr","x":55,"y":422},{"s":"100hr","x":55.25,"y":415},{"s":"100hr","x":55.5,"y":421},{"s":"100hr","x":55.75,"y":416},{"s":"100hr","x":56,"y":424},{"s":"100hr","x":56.25,"y":417},{"s":"100hr","x":56.5,"y":422},{"s":"100hr","x":56.75,"y":414},{"s":"100hr","x":57,"y":420},{"s":"100hr","x":57.25,"y":416},{"s":"100hr","x":57.5,"y":423},{"s":"100hr","x":57.75,"y":418},{"s":"100hr","x":58,"y":424},{"s":"100hr","x":58.15,"y":428},{"s":"100hr","x":58.3,"y":436},{"s":"100hr","x":58.45,"y":424},{"s":"100hr","x":58.6,"y":421},{"s":"100hr","x":58.8,"y":413},{"s":"100hr","x":59,"y":418},{"s":"100hr","x":59.25,"y":412},{"s":"100hr","x":59.5,"y":417},{"s":"100hr","x":59.75,"y":411},{"s":"100hr","x":60,"y":418},{"s":"100hr","x":60.25,"y":413},{"s":"100hr","x":60.5,"y":416},{"s":"100hr","x":60.75,"y":411},{"s":"100hr","x":61,"y":419},{"s":"100hr","x":61.25,"y":412},{"s":"100hr","x":61.5,"y":417},{"s":"100hr","x":61.75,"y":413},{"s":"100hr","x":62,"y":420},{"s":"100hr","x":62.25,"y":416},{"s":"100hr","x":62.5,"y":424},{"s":"100hr","x":62.75,"y":418},{"s":"100hr","x":63,"y":425},{"s":"100hr","x":63.25,"y":418},{"s":"100hr","x":63.5,"y":424},{"s":"100hr","x":63.75,"y":417},{"s":"100hr","x":64,"y":423},{"s":"100hr","x":64.25,"y":415},{"s":"100hr","x":64.5,"y":422},{"s":"100hr","x":64.75,"y":416},{"s":"100hr","x":65,"y":421},{"s":"100hr","x":65.25,"y":414},{"s":"100hr","x":65.5,"y":422},{"s":"100hr","x":65.75,"y":417},{"s":"100hr","x":66,"y":423},{"s":"100hr","x":66.25,"y":416},{"s":"100hr","x":66.5,"y":421},{"s":"100hr","x":66.75,"y":414},{"s":"100hr","x":67,"y":422},{"s":"100hr","x":67.25,"y":417},{"s":"100hr","x":67.5,"y":420},{"s":"100hr","x":67.75,"y":415},{"s":"100hr","x":68,"y":423},{"s":"100hr","x":68.25,"y":416},{"s":"100hr","x":68.5,"y":421},{"s":"100hr","x":68.75,"y":417},{"s":"100hr","x":69,"y":424},{"s":"100hr","x":69.25,"y":416},{"s":"100hr","x":69.5,"y":420},{"s":"100hr","x":69.75,"y":415},{"s":"100hr","x":70,"y":422},{"s":"100hr","x":70.25,"y":417},{"s":"100hr","x":70.5,"y":421},{"s":"100hr","x":70.75,"y":416},{"s":"100hr","x":71,"y":423},{"s":"100hr","x":71.25,"y":415},{"s":"100hr","x":71.5,"y":420},{"s":"100hr","x":71.75,"y":417},{"s":"100hr","x":72,"y":422},{"s":"100hr","x":72.25,"y":418},{"s":"100hr","x":72.5,"y":423},{"s":"100hr","x":72.75,"y":419},{"s":"100hr","x":73,"y":425},{"s":"100hr","x":73.2,"y":424},{"s":"100hr","x":73.35,"y":431},{"s":"100hr","x":73.55,"y":438},{"s":"100hr","x":73.7,"y":431},{"s":"100hr","x":73.85,"y":428},{"s":"100hr","x":74,"y":421},{"s":"100hr","x":74.25,"y":423},{"s":"100hr","x":74.5,"y":416},{"s":"100hr","x":74.75,"y":422},{"s":"100hr","x":75,"y":415},{"s":"100hr","x":75.25,"y":421},{"s":"100hr","x":75.5,"y":416},{"s":"100hr","x":75.75,"y":423},{"s":"100hr","x":76,"y":417},{"s":"100hr","x":76.25,"y":422},{"s":"100hr","x":76.5,"y":414},{"s":"100hr","x":76.75,"y":420},{"s":"100hr","x":77,"y":416},{"s":"100hr","x":77.25,"y":423},{"s":"100hr","x":77.5,"y":417},{"s":"100hr","x":77.75,"y":421},{"s":"100hr","x":78,"y":415},{"s":"100hr","x":78.25,"y":422},{"s":"100hr","x":78.5,"y":418},{"s":"100hr","x":78.75,"y":423},{"s":"100hr","x":79,"y":416},{"s":"100hr","x":79.25,"y":421},{"s":"100hr","x":79.5,"y":414},{"s":"100hr","x":79.75,"y":422},{"s":"100hr","x":80,"y":417}
    ],
    "peaks": [
      {"kind":"Mo","x":39.5,"y":551},
      {"kind":"Mo","x":58.83,"y":116},
      {"kind":"Mo","x":73.83,"y":130},
      {"kind":"Si","x":28.33,"y":130},
      {"kind":"Si","x":47.17,"y":121},
      {"kind":"Si","x":56.0,"y":102},
      {"kind":"Si","x":69.17,"y":95},
      {"kind":"Si","x":76.17,"y":96},
      {"kind":"beta","x":22.0,"y":444},
      {"kind":"beta","x":25.5,"y":452},
      {"kind":"beta","x":34.67,"y":445},
      {"kind":"beta","x":42.33,"y":474},
      {"kind":"beta","x":47.83,"y":451},
      {"kind":"beta","x":62.5,"y":436},
      {"kind":"alpha","x":38.17,"y":464},
      {"kind":"alpha","x":44.33,"y":452}
    ],
    "key": [
      {"kind":"Mo","label":"M o","x":75.0,"y":639,"tx":66.5,"ty":637.5},
      {"kind":"Si","label":"S i","x":75.0,"y":608,"tx":64.5,"ty":607},
      {"kind":"beta","label":"β\u2009-\u2009M\u20090\u2009S\u2009i\u20092","x":72.83,"y":581,"tx":71.17,"ty":581.5},
      {"kind":"alpha","label":"α\u2009-\u2009M\u20090\u2009S\u2009i\u20092","x":72.83,"y":555,"tx":71.17,"ty":553.5}
    ],
    "runs": [
      {"label":"1\u20090\u20090\u2009h\u2009r","x":12.17,"y":472},
      {"label":"7\u20090\u2009h\u2009r","x":12.17,"y":396},
      {"label":"5\u20095\u2009h\u2009r","x":12.17,"y":335},
      {"label":"4\u20090\u2009h\u2009r","x":12.17,"y":259},
      {"label":"3\u20090\u2009h\u2009r","x":12.17,"y":182},
      {"label":"2\u20090\u2009h\u2009r","x":12.17,"y":123},
      {"label":"1\u20090\u2009h\u2009r","x":12.17,"y":46}
    ]
  },
  "encoding": {
    "x": {
      "field": "x", "type": "quantitative",
      "scale": {"domain": [3, 80], "nice": false, "zero": false},
      "axis": {
        "values": [3,4,5,6,7,8,9,10,11,12,13,14,15,16,17,18,19,20,21,22,23,24,25,26,27,28,29,30,31,32,33,34,35,36,37,38,39,40,41,42,43,44,45,46,47,48,49,50,51,52,53,54,55,56,57,58,59,60,61,62,63,64,65,66,67,68,69,70,71,72,73,74,75,76,77,78,79,80],
        "tickCount": 100,
        "labelExpr": "datum.value % 10 == 5 ? format(datum.value, '.1f') : ''",
        "tickSize": {"condition": {"test": "datum.value % 10 == 5", "value": 12}, "value": 8},
        "offset": -4,
        "grid": false,
        "domainColor": "#111", "domainWidth": 1.4,
        "tickColor": "#111", "tickWidth": 1.1,
        "labelFont": "DejaVu Sans Mono", "labelFontSize": 13, "labelColor": "#111",
        "labelOverlap": false, "labelFlush": false, "labelBound": false,
        "labelPadding": 2, "labelOffset": -3,
        "title": "2θ", "titleFont": "Liberation Sans", "titleFontStyle": "italic",
        "titleFontWeight": "normal", "titleFontSize": 14, "titleColor": "#111",
        "titleAlign": "left", "titleBaseline": "alphabetic", "titleAnchor": "start",
        "titleX": 446, "titleY": 42
      }
    },
    "y": {"field": "y", "type": "quantitative", "scale": {"domain": [0, 657], "nice": false, "zero": false}, "axis": null}
  },
  "layer": [
    {
      "data": {"name": "scans"},
      "transform": [{"filter": "datum.s == '10hr' || datum.s == '20hr' || datum.s == '30hr'"}],
      "mark": {"type": "line", "color": "#1c1c1c", "strokeWidth": 1.3, "strokeJoin": "round"},
      "encoding": {"detail": {"field": "s"}}
    },
    {
      "data": {"name": "scans"},
      "transform": [{"filter": "datum.s == '40hr' || datum.s == '55hr'"}],
      "mark": {"type": "line", "color": "#1c1c1c", "strokeWidth": 1.7, "strokeJoin": "round"},
      "encoding": {"detail": {"field": "s"}}
    },
    {
      "data": {"name": "scans"},
      "transform": [{"filter": "datum.s == '70hr' || datum.s == '100hr'"}],
      "mark": {"type": "line", "color": "#1c1c1c", "strokeWidth": 1.3, "strokeJoin": "round"},
      "encoding": {"detail": {"field": "s"}}
    },
    {
      "data": {"name": "peaks"},
      "transform": [{"filter": "datum.kind == 'Mo'"}],
      "mark": {"type": "point", "shape": "circle", "filled": true, "opacity": 1, "color": "#303030", "size": 380}
    },
    {
      "data": {"name": "peaks"},
      "transform": [{"filter": "datum.kind == 'Si'"}],
      "mark": {"type": "point", "shape": "triangle-up", "filled": true, "opacity": 1, "color": "#303030", "size": 484}
    },
    {
      "data": {"name": "peaks"},
      "transform": [{"filter": "datum.kind == 'beta'"}],
      "mark": {"type": "point", "shape": "square", "filled": true, "opacity": 1, "fill": "#ffffff", "stroke": "#1a1a1a", "strokeWidth": 2.6, "size": 256}
    },
    {
      "data": {"name": "peaks"},
      "transform": [{"filter": "datum.kind == 'alpha'"}],
      "mark": {"type": "point", "shape": "square", "filled": true, "opacity": 1, "color": "#303030", "size": 225}
    },
    {
      "data": {"name": "key"},
      "transform": [{"filter": "datum.kind == 'Mo'"}],
      "mark": {"type": "point", "shape": "circle", "filled": true, "opacity": 1, "color": "#303030", "size": 324}
    },
    {
      "data": {"name": "key"},
      "transform": [{"filter": "datum.kind == 'Si'"}],
      "mark": {"type": "point", "shape": "triangle-up", "filled": true, "opacity": 1, "color": "#303030", "size": 484}
    },
    {
      "data": {"name": "key"},
      "transform": [{"filter": "datum.kind == 'beta'"}],
      "mark": {"type": "point", "shape": "square", "filled": true, "opacity": 1, "fill": "#ffffff", "stroke": "#1a1a1a", "strokeWidth": 2.4, "size": 150}
    },
    {
      "data": {"name": "key"},
      "transform": [{"filter": "datum.kind == 'alpha'"}],
      "mark": {"type": "point", "shape": "square", "filled": true, "opacity": 1, "color": "#303030", "size": 200}
    },
    {
      "data": {"name": "key"},
      "mark": {"type": "text", "align": "right", "baseline": "middle", "font": "Liberation Sans", "fontWeight": "bold", "fontSize": 17, "color": "#111"},
      "encoding": {
        "x": {"field": "tx", "type": "quantitative"},
        "y": {"field": "ty", "type": "quantitative"},
        "text": {"field": "label"}
      }
    },
    {
      "data": {"name": "runs"},
      "mark": {"type": "text", "align": "left", "baseline": "middle", "font": "Liberation Sans", "fontWeight": "bold", "fontSize": 12.5, "color": "#111"},
      "encoding": {"text": {"field": "label"}}
    }
  ]
}
